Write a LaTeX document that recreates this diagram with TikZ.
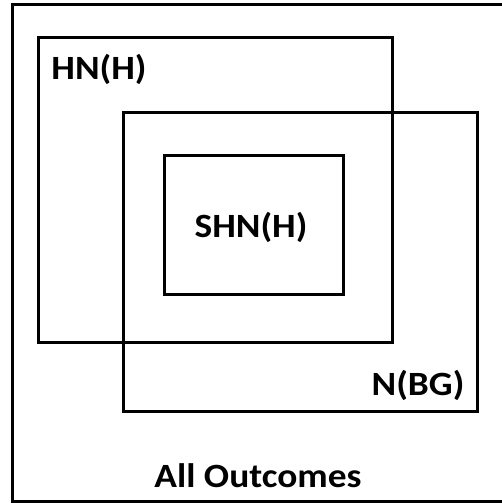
\documentclass[tikz,border=0pt]{standalone}
\usepackage{fontspec}
\setmainfont{Carlito}
\usetikzlibrary{positioning}

\begin{document}
\begin{tikzpicture}[x=1pt,y=-1pt,
			box/.style={draw,rectangle,line width=3pt,inner sep=0pt,outer sep=0pt},
			setname/.style={anchor=base,inner sep=0pt,xscale=1.1,font=\fontsize{34}{40}\selectfont\bfseries}]
			\useasboundingbox (0,0) rectangle (501,503);
			\node (all) [box,minimum width=495pt,minimum height=497pt] at (260,253) {};
			\node (hn) [box,minimum width=354pt,minimum height=304pt] at (215,190) {};
			\node (nbg) [box,minimum width=354pt,minimum height=299pt] at (300,261.5) {};
			\node (shn) [box,minimum width=179pt,minimum height=139pt] at (253.5,224.5) {};
			\node (hnlabel) [setname] at (99,79) {HN(H)};
			\node (shnlabel) [setname] at (251,237) {SHN(H)};
			\node (nbglabel) [setname] at (418,395) {N(BG)};
			\node (alllabel) [setname] at (258,487) {All Outcomes};
		\end{tikzpicture}
\end{document}
